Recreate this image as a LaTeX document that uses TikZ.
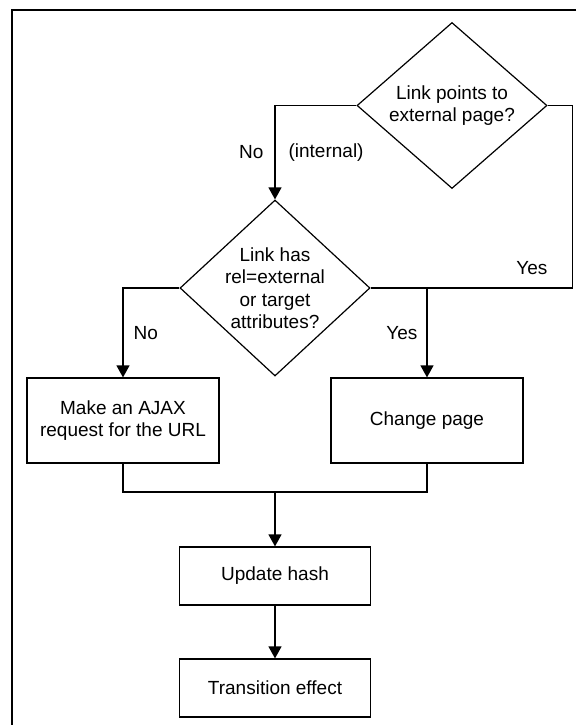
\documentclass[tikz,border=0pt]{standalone}
\usepackage{fontspec}
\setmainfont{Liberation Sans}
\usetikzlibrary{arrows.meta}
\usetikzlibrary{shapes.geometric}
\usetikzlibrary{positioning}
\tikzset{flow/.style = {-{Triangle[length=12pt, width=13pt]}}}
\tikzset{decision/.style = {draw, diamond, align=center, inner sep=-3pt,
                            minimum width=190pt}}
\tikzset{process/.style = {draw, rectangle, align=center, minimum width=192pt}}
\tikzset{answer/.style = {inner sep=0}}

\begin{document}
\begin{tikzpicture}[x=1pt, y=-1pt, line width=1.2pt,
                    font=\fontsize{19}{22.5}\selectfont]
      \useasboundingbox (0, 0) rectangle (576, 725);
      \draw [line width=2pt] (576, 10) -- (12, 10) -- (12, 725);

      \node [decision, minimum height=166pt] (extlink) at (452, 105.5)
        {Link points to\\external page?};
      \node [decision, minimum height=176pt] (relattr) at (275, 288)
        {Link has\\rel=external\\or target\\attributes?};

      \node [process, minimum height=85pt] (ajax) at (123, 420.5)
        {Make an AJAX\\request for the URL};
      \node [process, minimum height=85pt] (change) at (427, 420.5)
        {Change page};
      \node [process, minimum width=191pt, minimum height=58pt] (hash) at (275, 576)
        {Update hash};
      \node [process, minimum width=191pt, minimum height=58pt] (effect) at (275, 688)
        {Transition effect};

      \coordinate (join) at (change.north |- relattr.east);
      \coordinate (merge) at (275, 492);

      % internal link
      \draw [flow] (extlink.west) -| (relattr.north)
        node [answer, pos=0.75, left=11pt] {No}
        node [answer, pos=0.75, right=13pt] {(internal)};

      % external link
      \draw (extlink.east) -- ++(25, 0) |- (join)
        node [answer, pos=0.64, above=13pt] {Yes};
      \draw (relattr.east) -- (join);
      \draw [flow] (join) -- (change.north)
        node [answer, midway, left=9pt] {Yes};
      \draw [flow] (relattr.west) -| (ajax.north)
        node [answer, pos=0.75, right=10pt] {No};

      % both branches end up here
      \draw (ajax.south) -- (ajax.south |- merge) -- (change.south |- merge)
        -- (change.south);
      \draw [flow] (merge) -- (hash.north);
      \draw [flow] (hash.south) -- (effect.north);

    \end{tikzpicture}
\end{document}
